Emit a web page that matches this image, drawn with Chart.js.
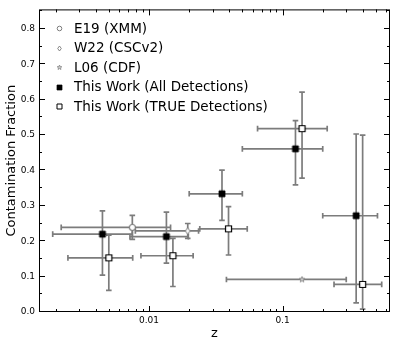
<!DOCTYPE html>
<html>
<head>
<meta charset="utf-8">
<script src="https://cdn.jsdelivr.net/npm/chart.js@4.4.0/dist/chart.umd.min.js"></script>
<style>
  html, body { margin: 0; padding: 0; background: #fff; }
</style>
</head>
<body>
<canvas id="chart" width="395" height="342"></canvas>
<script>
// Valores: z, fração de contaminação e barras de erro
const e19Z = [0.0075];
const e19V = [0.239];
const e19ZLo = [0.0022], e19ZHi = [0.0145];
const e19VLo = [0.205], e19VHi = [0.273];

const w22Z = [0.0195];
const w22V = [0.229];
const w22ZLo = [0.0079], w22ZHi = [0.0235];
const w22VLo = [0.208], w22VHi = [0.250];

const l06Z = [0.140];
const l06V = [0.092];
const l06ZLo = [0.038], l06ZHi = [0.30];
const l06VLo = [0.092], l06VHi = [0.092];

const allZ = [0.00448, 0.0135, 0.0352, 0.125, 0.356];
const allV = [0.220, 0.213, 0.334, 0.461, 0.272];
const allZLo = [0.0019, 0.0072, 0.0200, 0.050, 0.200];
const allZHi = [0.0075, 0.0197, 0.050, 0.200, 0.514];
const allVLo = [0.104, 0.138, 0.259, 0.359, 0.026];
const allVHi = [0.286, 0.282, 0.401, 0.541, 0.503];

const trueZ = [0.0050, 0.0151, 0.0394, 0.140, 0.398];
const trueV = [0.153, 0.159, 0.235, 0.518, 0.078];
const trueZLo = [0.00247, 0.0087, 0.024, 0.065, 0.243];
const trueZHi = [0.00755, 0.0214, 0.0544, 0.216, 0.553];
const trueVLo = [0.061, 0.072, 0.161, 0.378, 0.008];
const trueVHi = [0.217, 0.208, 0.298, 0.621, 0.500];

const labels = ['E19 (XMM)', 'W22 (CSCv2)', 'L06 (CDF)', 'This Work (All Detections)', 'This Work (TRUE Detections)'];
const yTicks = [0.0, 0.1, 0.2, 0.3, 0.4, 0.5, 0.6, 0.7, 0.8];
const xTicks = [0.01, 0.1];

const GRAY = '#7c7c7c';
const FONT = "'DejaVu Sans', sans-serif";

function pts(z, v) {
  return z.map((x, i) => ({ x: x, y: v[i] }));
}

// desenha marcadores num canvas pequeno (usado como pointStyle)
function marker(kind, s, fill, stroke, lw) {
  const n = Math.ceil(s + lw * 2 + 2);
  const c = document.createElement('canvas');
  c.width = n; c.height = n;
  const g = c.getContext('2d');
  const m = n / 2;
  g.beginPath();
  if (kind === 'circle') {
    g.arc(m, m, s / 2, 0, Math.PI * 2);
  } else if (kind === 'square') {
    g.rect(m - s / 2, m - s / 2, s, s);
  } else if (kind === 'diamond') {
    g.moveTo(m, m - s / 2);
    g.lineTo(m + s * 0.36, m);
    g.lineTo(m, m + s / 2);
    g.lineTo(m - s * 0.36, m);
    g.closePath();
  } else if (kind === 'star') {
    for (let k = 0; k < 10; k++) {
      const r = k % 2 === 0 ? s / 2 : s / 4.5;
      const a = -Math.PI / 2 + k * Math.PI / 5;
      const px = m + r * Math.cos(a), py = m + r * Math.sin(a);
      if (k === 0) g.moveTo(px, py); else g.lineTo(px, py);
    }
    g.closePath();
  }
  g.fillStyle = fill;
  g.fill();
  g.lineWidth = lw;
  g.strokeStyle = stroke;
  g.stroke();
  return c;
}

const plotMarks = [
  marker('circle', 6, '#fff', GRAY, 1.1),
  marker('diamond', 6.5, '#fff', GRAY, 1),
  marker('star', 6, '#ccc', GRAY, 0.8),
  marker('square', 6, '#000', '#000', 0.8),
  marker('square', 6, '#fff', '#000', 1.2)
];
const legendMarks = [
  marker('circle', 4.6, '#fff', GRAY, 1),
  marker('diamond', 5, '#fff', GRAY, 0.9),
  marker('star', 5, '#ccc', GRAY, 0.7),
  marker('square', 5, '#000', '#000', 0.7),
  marker('square', 5, '#fff', '#000', 1)
];

const errSets = [
  { zLo: e19ZLo, zHi: e19ZHi, vLo: e19VLo, vHi: e19VHi },
  { zLo: w22ZLo, zHi: w22ZHi, vLo: w22VLo, vHi: w22VHi },
  { zLo: l06ZLo, zHi: l06ZHi, vLo: l06VLo, vHi: l06VHi },
  { zLo: allZLo, zHi: allZHi, vLo: allVLo, vHi: allVHi },
  { zLo: trueZLo, zHi: trueZHi, vLo: trueVLo, vHi: trueVHi }
];

const errorBars = {
  id: 'errorBars',
  beforeDatasetsDraw(chart) {
    const { ctx, chartArea: a, scales: { x, y } } = chart;
    ctx.save();
    ctx.beginPath();
    ctx.rect(a.left, a.top, a.right - a.left, a.bottom - a.top);
    ctx.clip();
    ctx.strokeStyle = GRAY;
    ctx.lineWidth = 1.7;
    const cap = 2.8;
    chart.data.datasets.forEach((ds, i) => {
      const e = errSets[i];
      ds.data.forEach((p, j) => {
        const px = x.getPixelForValue(p.x), py = y.getPixelForValue(p.y);
        const x0 = x.getPixelForValue(e.zLo[j]), x1 = x.getPixelForValue(e.zHi[j]);
        ctx.beginPath();
        ctx.moveTo(x0, py); ctx.lineTo(x1, py);
        ctx.moveTo(x0, py - cap); ctx.lineTo(x0, py + cap);
        ctx.moveTo(x1, py - cap); ctx.lineTo(x1, py + cap);
        if (e.vLo[j] !== e.vHi[j]) {
          const y0 = y.getPixelForValue(e.vLo[j]), y1 = y.getPixelForValue(e.vHi[j]);
          ctx.moveTo(px, y0); ctx.lineTo(px, y1);
          ctx.moveTo(px - cap, y0); ctx.lineTo(px + cap, y0);
          ctx.moveTo(px - cap, y1); ctx.lineTo(px + cap, y1);
        }
        ctx.stroke();
      });
    });
    ctx.restore();
  }
};

// moldura com ticks para dentro (estilo matplotlib) + legenda
const frameAndLegend = {
  id: 'frameAndLegend',
  afterDraw(chart) {
    const { ctx, chartArea: a, scales: { x, y } } = chart;
    ctx.save();
    ctx.strokeStyle = '#000';
    ctx.lineWidth = 1;
    ctx.strokeRect(a.left + 0.5, a.top + 0.5, a.right - a.left - 1, a.bottom - a.top - 1);

    ctx.beginPath();
    // y major + minor
    for (let v = 0; v <= 0.851; v += 0.05) {
      const py = Math.round(y.getPixelForValue(v)) - 0.5;
      const len = Math.abs(v * 10 - Math.round(v * 10)) < 0.01 ? 6 : 3;
      ctx.moveTo(a.left, py); ctx.lineTo(a.left + len, py);
      ctx.moveTo(a.right, py); ctx.lineTo(a.right - len, py);
    }
    // x major + minor (log)
    for (let d = 0.001; d < 1; d *= 10) {
      for (let k = 1; k <= 9; k++) {
        const v = d * k;
        if (v < x.min || v > x.max) continue;
        const px = Math.round(x.getPixelForValue(v)) + 0.5;
        const len = k === 1 ? 6 : 3;
        ctx.moveTo(px, a.bottom); ctx.lineTo(px, a.bottom - len);
        ctx.moveTo(px, a.top); ctx.lineTo(px, a.top + len);
      }
    }
    ctx.stroke();

    // legenda
    ctx.font = '13.5px ' + FONT;
    ctx.fillStyle = '#000';
    ctx.textBaseline = 'middle';
    chart.data.datasets.forEach((ds, i) => {
      const cy = 28.5 + i * 19.5;
      const m = legendMarks[i];
      ctx.drawImage(m, Math.round(59 - m.width / 2), Math.round(cy - m.height / 2));
      ctx.fillText(ds.label, 74, cy + 0.5);
    });
    ctx.restore();
  }
};

const datasets = [
  pts(e19Z, e19V), pts(w22Z, w22V), pts(l06Z, l06V), pts(allZ, allV), pts(trueZ, trueV)
].map((d, i) => ({
  label: labels[i],
  data: d,
  pointStyle: plotMarks[i],
  pointRadius: 4,
  pointHoverRadius: 4
}));

new Chart(document.getElementById('chart'), {
  type: 'scatter',
  data: { datasets: datasets },
  options: {
    responsive: false,
    animation: false,
    events: [],
    layout: { padding: { top: 6, right: 5, left: 0, bottom: 0 } },
    plugins: { legend: { display: false }, tooltip: { enabled: false } },
    scales: {
      x: {
        type: 'logarithmic',
        min: 0.0015,
        max: 0.638,
        grid: { display: false, drawTicks: false },
        border: { display: false },
        afterBuildTicks: (s) => { s.ticks = xTicks.map(v => ({ value: v })); },
        afterFit: (s) => { s.height = 30; },
        ticks: {
          autoSkip: false,
          maxRotation: 0,
          padding: 3,
          color: '#000',
          font: { family: FONT, size: 9 },
          callback: (v) => String(v)
        },
        title: {
          display: true,
          text: 'z',
          color: '#000',
          font: { family: FONT, size: 13 },
          padding: { top: 1, bottom: 1 }
        }
      },
      y: {
        min: 0,
        max: 0.855,
        grid: { display: false, drawTicks: false },
        border: { display: false },
        afterBuildTicks: (s) => { s.ticks = yTicks.map(v => ({ value: v })); },
        afterFit: (s) => { s.width = 39; },
        ticks: {
          padding: 4,
          color: '#000',
          font: { family: FONT, size: 9 },
          callback: (v) => v.toFixed(1)
        },
        title: {
          display: true,
          text: 'Contamination Fraction',
          color: '#000',
          font: { family: FONT, size: 13 },
          padding: { top: 4, bottom: 0 }
        }
      }
    }
  },
  plugins: [errorBars, frameAndLegend]
});
</script>
</body>
</html>
